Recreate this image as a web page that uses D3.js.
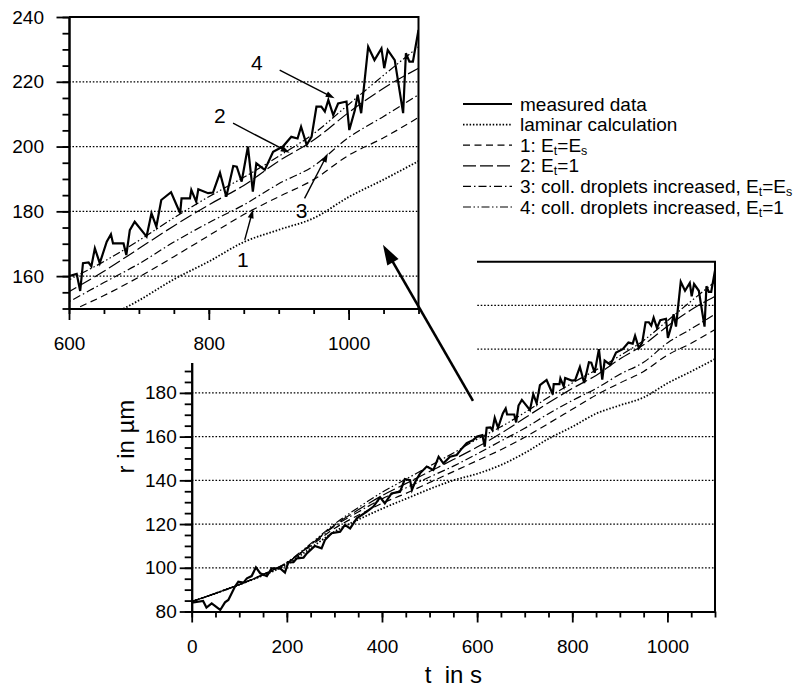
<!DOCTYPE html>
<html>
<head>
<meta charset="utf-8">
<script src="https://cdn.jsdelivr.net/npm/d3@7"></script>
<style>
  html, body { margin: 0; padding: 0; background: #fff; }
  svg { display: block; font-family: "Liberation Sans", Arial, Helvetica, sans-serif; }
</style>
</head>
<body>
<svg id="chart" width="812" height="687"></svg>
<script>
// ---- data -------------------------------------------------------------
// model calculations, sampled every 50 s
const modelTime = [0, 50, 100, 150, 200, 250, 300, 350, 400, 450, 500, 550,
                   600, 650, 700, 750, 800, 850, 900, 950, 1000, 1050, 1100];
const laminar = [84.5, 88.3, 92.3, 96.5, 101.5, 109, 116.5, 122, 127, 131.5, 136, 140,
                 143, 147, 152.5, 159, 164.5, 170.5, 174.3, 177.9, 184.4, 189.8, 195.5];
const case1 = [84.5, 88.3, 92.3, 96.7, 102, 110, 118, 124, 129.5, 134, 139, 144,
               149, 154, 159.7, 166, 172.5, 179, 184.5, 189.8, 197.3, 202.7, 209];
const case2 = [84.5, 88.3, 92.3, 97, 102.3, 110.5, 119.5, 126.5, 133, 138.5, 144, 149.5,
               155.2, 161.5, 168.5, 175.5, 182, 188, 195.5, 202, 210.5, 218, 224.2];
const case3 = [84.5, 88.3, 92.3, 96.8, 102.2, 110.5, 119, 125.5, 131.5, 136.5, 141.5, 146.5,
               152.1, 158, 163.8, 170.5, 176.5, 182, 188.5, 194, 202.8, 209.3, 216];
const case4 = [84.5, 88.3, 92.3, 97, 102.5, 111, 120, 127.5, 134.5, 140.5, 146.5, 152.5,
               158.8, 164.5, 171, 178, 184.5, 190.5, 197, 204, 213, 222, 230.8];

// measured droplet radius
const measTime = [0, 24, 31, 42, 60, 70, 77, 91, 98, 109,
  116, 126, 135, 144, 158, 168, 186, 196, 203, 214,
  221, 235, 242, 259, 273, 280, 294, 312, 322, 333,
  347, 368, 382, 396, 406, 420, 438, 448, 459, 463,
  470, 480, 494, 508, 519, 529, 543, 557, 568, 578,
  592, 600, 611, 616, 620, 628, 632, 637, 644, 654,
  660, 663, 678, 682, 687, 694, 711, 718, 725, 732,
  746, 759, 761, 773, 775, 782, 785, 799, 806, 816,
  825, 835, 840, 847, 856, 863, 868, 880, 892, 906,
  918, 927, 932, 940, 947, 954, 961, 966, 971, 978,
  985, 997, 1001, 1009, 1013, 1018, 1028, 1037, 1047, 1051,
  1056, 1066, 1078, 1082, 1087, 1092, 1100];
const measRadius = [84, 84.8, 81.8, 83.7, 80.7, 84.2, 85.3, 91.4, 93.6, 93.2,
  95.2, 96.2, 100.2, 97.5, 96.2, 99.7, 99.7, 97.8, 102.5, 102.6,
  104.3, 104.6, 106.6, 110, 108.9, 112.7, 115.8, 116.5, 119.6, 118,
  122.6, 125.7, 128, 132.2, 129.5, 134, 134.8, 140.6, 140.1, 135.6,
  139.4, 143.2, 146.3, 144.7, 150.8, 147.8, 150.8, 151.6, 154.6, 157,
  158.5, 160, 160.7, 155.4, 164, 164.2, 163, 168.6, 164, 170.6,
  172.9, 170.1, 170.1, 166.5, 174.2, 176.8, 172.2, 179.4, 175.3, 183.5,
  185.9, 179.4, 184, 184, 186.6, 183, 186.8, 185.6, 185.8, 191.9,
  184.5, 194, 193.8, 189.2, 200, 186.1, 194.8, 192.8, 198.4, 200,
  203, 202.5, 206.1, 200.5, 203, 212.3, 212.3, 210.8, 214.4, 209.7,
  213.3, 213.9, 205.1, 211.3, 216, 210.3, 230.8, 226.7, 230.3, 224.2,
  229.8, 226.7, 210.3, 228.8, 226.2, 226.2, 236];

// axis ticks
const mainXTicks = [0, 200, 400, 600, 800, 1000];
const mainYTicks = [80, 100, 120, 140, 160, 180];
const mainGrid = [100, 120, 140, 160, 180, 200, 220];
const insetXTicks = [600, 800, 1000];
const insetYTicks = [160, 180, 200, 220, 240];
const insetGrid = [160, 180, 200, 220];

// legend entries (label parts: [text, isSubscript])
const legendItems = [
  { key: "meas", parts: [["measured data", false]] },
  { key: "lam",  parts: [["laminar calculation", false]] },
  { key: "c1",   parts: [["1: E", false], ["t", true], ["=E", false], ["s", true]] },
  { key: "c2",   parts: [["2: E", false], ["t", true], ["=1", false]] },
  { key: "c3",   parts: [["3: coll. droplets increased, E", false], ["t", true], ["=E", false], ["s", true]] },
  { key: "c4",   parts: [["4: coll. droplets increased, E", false], ["t", true], ["=1", false]] }
];

// ---- styles -------------------------------------------------------------
const styles = {
  meas: { width: 2.2, dash: null },
  lam:  { width: 1.8, dash: "1.5,1.8" },
  c1:   { width: 1.2, dash: "7,4.5" },
  c2:   { width: 1.2, dash: "13,4" },
  c3:   { width: 1.2, dash: "8,3,1.5,3" },
  c4:   { width: 1.2, dash: "8,2.5,1.5,2.5,1.5,2.5" }
};
const modelSeries = [
  { key: "lam", values: laminar },
  { key: "c1", values: case1 },
  { key: "c3", values: case3 },
  { key: "c2", values: case2 },
  { key: "c4", values: case4 }
];

const svg = d3.select("#chart");
const TICK_FONT = 19;
const fmt = d3.format("d");

// ---- main panel -------------------------------------------------------
const xM = d3.scaleLinear().domain([0, 1100]).range([191.7, 715]);
const yM = d3.scaleLinear().domain([80, 240]).range([611.5, 261.7]);

const main = svg.append("g");
main.append("clipPath").attr("id", "clipMain").append("rect")
  .attr("x", xM(0)).attr("y", yM(240)).attr("width", xM(1100) - xM(0)).attr("height", yM(80) - yM(240));

main.selectAll("line.grid").data(mainGrid).join("line")
  .attr("x1", xM(0)).attr("x2", xM(1100))
  .attr("y1", d => yM(d)).attr("y2", d => yM(d))
  .attr("stroke", "#000").attr("stroke-width", 1.3).attr("stroke-dasharray", "1.6,1.8");

function drawSeries(g, xs, ys, clipId) {
  const layer = g.append("g").attr("clip-path", `url(#${clipId})`);
  const lineModel = d3.line().x((d, i) => xs(modelTime[i])).y(d => ys(d)).curve(d3.curveMonotoneX);
  modelSeries.forEach(s => {
    layer.append("path").datum(s.values)
      .attr("d", lineModel).attr("fill", "none").attr("stroke", "#000")
      .attr("stroke-width", styles[s.key].width)
      .attr("stroke-dasharray", styles[s.key].dash);
  });
  const lineMeas = d3.line().x((d, i) => xs(measTime[i])).y(d => ys(d));
  layer.append("path").datum(measRadius)
    .attr("d", lineMeas).attr("fill", "none").attr("stroke", "#000")
    .attr("stroke-width", styles.meas.width).attr("stroke-linejoin", "miter");
}
drawSeries(main, xM, yM, "clipMain");

function styleAxis(sel) {
  sel.select(".domain").attr("stroke-width", 2);
  sel.selectAll(".tick line").attr("stroke-width", 1.8);
  sel.selectAll("text").attr("font-size", TICK_FONT).attr("fill", "#000")
     .attr("font-family", "'Liberation Sans', Arial, sans-serif");
}

// bottom axis with minor ticks every 50 s
main.append("g").attr("transform", `translate(0,${yM(80)})`)
  .call(d3.axisBottom(xM).tickValues(d3.range(0, 1101, 50)).tickSize(6).tickFormat("").tickSizeOuter(0))
  .call(styleAxis);
main.append("g").attr("transform", `translate(0,${yM(80)})`)
  .call(d3.axisBottom(xM).tickValues(mainXTicks).tickFormat(fmt).tickSize(11).tickPadding(17).tickSizeOuter(0))
  .call(styleAxis);
// left axis with minor ticks every 5 µm
main.append("g").attr("transform", `translate(${xM(0)},0)`)
  .call(d3.axisLeft(yM).tickValues(d3.range(80, 241, 5)).tickSize(7).tickFormat("").tickSizeOuter(0))
  .call(styleAxis);
main.append("g").attr("transform", `translate(${xM(0)},0)`)
  .call(d3.axisLeft(yM).tickValues(mainYTicks).tickFormat(fmt).tickSize(12).tickPadding(3).tickSizeOuter(0))
  .call(styleAxis);
// frame: top and right
main.append("path")
  .attr("d", `M${xM(0)},${yM(240)}H${xM(1100)}V${yM(80)}`)
  .attr("fill", "none").attr("stroke", "#000").attr("stroke-width", 2);

// axis titles
main.append("text").attr("x", (xM(0) + xM(1100)) / 2).attr("y", 683)
  .attr("text-anchor", "middle").attr("font-size", 24).text("t\u00a0 in s");
main.append("text")
  .attr("transform", `translate(134,${(yM(80) + yM(240)) / 2}) rotate(-90)`)
  .attr("text-anchor", "middle").attr("font-size", 24).text("r in µm");

// ---- inset panel ------------------------------------------------------
svg.append("rect").attr("x", 0).attr("y", 0).attr("width", 477).attr("height", 363).attr("fill", "#fff");

const xI = d3.scaleLinear().domain([600, 1100]).range([69, 418.5]);
const yI = d3.scaleLinear().domain([150, 240]).range([308.5, 17]);
const inset = svg.append("g");
inset.append("clipPath").attr("id", "clipInset").append("rect")
  .attr("x", xI(600)).attr("y", yI(240)).attr("width", xI(1100) - xI(600)).attr("height", yI(150) - yI(240));

inset.selectAll("line.grid").data(insetGrid).join("line")
  .attr("x1", xI(600)).attr("x2", xI(1100))
  .attr("y1", d => yI(d)).attr("y2", d => yI(d))
  .attr("stroke", "#000").attr("stroke-width", 1.3).attr("stroke-dasharray", "1.6,1.8");

drawSeries(inset, xI, yI, "clipInset");

inset.append("g").attr("transform", `translate(0,${yI(150)})`)
  .call(d3.axisBottom(xI).tickValues(d3.range(600, 1101, 50)).tickSize(5.5).tickFormat("").tickSizeOuter(0))
  .call(styleAxis);
inset.append("g").attr("transform", `translate(0,${yI(150)})`)
  .call(d3.axisBottom(xI).tickValues(insetXTicks).tickFormat(fmt).tickSize(11.5).tickPadding(17).tickSizeOuter(0))
  .call(styleAxis);
inset.append("g").attr("transform", `translate(${xI(600)},0)`)
  .call(d3.axisLeft(yI).tickValues(d3.range(150, 241, 5)).tickSize(6.5).tickFormat("").tickSizeOuter(0))
  .call(styleAxis);
inset.append("g").attr("transform", `translate(${xI(600)},0)`)
  .call(d3.axisLeft(yI).tickValues(insetYTicks).tickFormat(fmt).tickSize(12.5).tickPadding(12.5).tickSizeOuter(0))
  .call(styleAxis);
inset.append("path")
  .attr("d", `M${xI(600)},${yI(240)}H${xI(1100)}V${yI(150)}`)
  .attr("fill", "none").attr("stroke", "#000").attr("stroke-width", 2);

// arrow helper: line with a filled head at (x2, y2)
function arrow(g, x1, y1, x2, y2, sw, hl, hw) {
  const a = Math.atan2(y2 - y1, x2 - x1);
  const bx = x2 - hl * Math.cos(a), by = y2 - hl * Math.sin(a);
  const px = -Math.sin(a) * hw / 2, py = Math.cos(a) * hw / 2;
  g.append("line").attr("x1", x1).attr("y1", y1)
    .attr("x2", bx + 0.1 * (x2 - bx)).attr("y2", by + 0.1 * (y2 - by))
    .attr("stroke", "#000").attr("stroke-width", sw);
  g.append("path").attr("d", `M${x2},${y2}L${bx + px},${by + py}L${bx - px},${by - py}Z`).attr("fill", "#000");
}

// curve labels with pointer arrows (inset data coordinates)
const curveLabels = [
  { text: "4", tx: 868.6, ty: 225.8, from: [901.4, 223.6], to: [980, 214.9] },
  { text: "2", tx: 815.7, ty: 209.7, from: [834.7, 207.2], to: [915.7, 198.1] },
  { text: "3", tx: 932.9, ty: 180.4, from: [937, 184], to: [970.4, 197.9] },
  { text: "1", tx: 848.6, ty: 165, from: [851.4, 171.2], to: [863.3, 180.6] }
];
curveLabels.forEach(l => {
  inset.append("text").attr("x", xI(l.tx)).attr("y", yI(l.ty) + 7.5)
    .attr("text-anchor", "middle").attr("font-size", 21).text(l.text);
  arrow(inset, xI(l.from[0]), yI(l.from[1]), xI(l.to[0]), yI(l.to[1]), 1.4, 9, 6);
});

// ---- legend -----------------------------------------------------------
const legend = svg.append("g");
legendItems.forEach((item, i) => {
  const cy = 104 + 20.6 * i;
  legend.append("line").attr("x1", 463).attr("x2", 512).attr("y1", cy).attr("y2", cy)
    .attr("stroke", "#000").attr("stroke-width", styles[item.key].width)
    .attr("stroke-dasharray", styles[item.key].dash);
  const t = legend.append("text").attr("x", 520).attr("y", cy + 6.5).attr("font-size", 19);
  let shifted = false;
  item.parts.forEach(([s, sub]) => {
    const ts = t.append("tspan").text(s);
    if (sub && !shifted) { ts.attr("font-size", 12.5).attr("dy", 3); shifted = true; }
    else if (!sub && shifted) { ts.attr("dy", -3); shifted = false; }
    else if (sub) { ts.attr("font-size", 12.5); }
  });
});

// ---- zoom arrow from main panel to inset ---------------------------------
arrow(svg, xM(591.3), yM(176.3), xM(402), yM(247.7), 2.6, 20, 13);
</script>
</body>
</html>
